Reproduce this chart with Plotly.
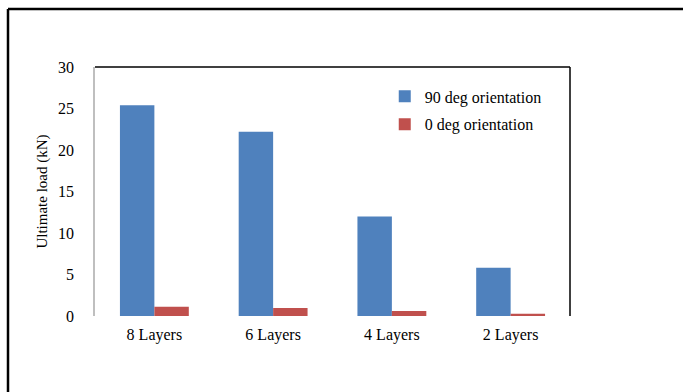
import plotly.graph_objects as go

# Ultimate load by number of layers and fibre orientation
categories = ["8 Layers", "6 Layers", "4 Layers", "2 Layers"]
load_90deg = [25.4, 22.2, 12.0, 5.8]
load_0deg = [1.1, 0.95, 0.6, 0.28]
y_ticks = [0, 5, 10, 15, 20, 25, 30]

FONT = "Liberation Serif, Times New Roman, serif"

fig = go.Figure()
fig.add_trace(go.Bar(
    x=categories, y=load_90deg, name="90 deg orientation",
    marker=dict(color="#4F81BD", line=dict(width=0)),
    legendgroup="a",
))
fig.add_trace(go.Bar(
    x=categories, y=load_0deg, name="0 deg orientation",
    marker=dict(color="#C0504D", line=dict(width=0)),
    legendgroup="b",
))

fig.update_layout(
    width=683, height=392,
    margin=dict(l=95, r=113, t=67, b=76),
    paper_bgcolor="white", plot_bgcolor="white",
    font=dict(family=FONT, size=16, color="#000000"),
    barmode="group", bargap=0.42, bargroupgap=0,
    showlegend=True,
    legend=dict(
        x=0.61, y=0.95, xanchor="left", yanchor="top",
        bgcolor="rgba(0,0,0,0)", borderwidth=0,
        font=dict(family=FONT, size=16),
        traceorder="grouped", tracegroupgap=4,
        itemwidth=30,
    ),
    xaxis=dict(
        showline=False, showgrid=False, ticks="",
        ticklabelstandoff=7,
        tickfont=dict(family=FONT, size=16),
    ),
    yaxis=dict(
        range=[0, 30], tickvals=y_ticks,
        showgrid=False, zeroline=False,
        showline=True, linecolor="#BFBFBF", linewidth=1.5,
        ticks="", ticklabelstandoff=16,
        tickfont=dict(family=FONT, size=16),
        title=dict(text="Ultimate load (kN)", font=dict(family=FONT, size=15), standoff=7),
    ),
)

# Plot-area border on the top and right sides
fig.add_shape(type="line", xref="paper", yref="paper", x0=0, x1=1, y0=1, y1=1,
              line=dict(color="black", width=1.5))
fig.add_shape(type="line", xref="paper", yref="paper", x0=1, x1=1, y0=0, y1=1,
              line=dict(color="black", width=1.5))

# Outer chart frame (left and top edges)
left_x = (8 - 95) / 475
top_y = 1 + (67 - 9) / 249
fig.add_shape(type="line", xref="paper", yref="paper", x0=left_x, x1=left_x, y0=-1, y1=top_y,
              line=dict(color="black", width=2.5))
fig.add_shape(type="line", xref="paper", yref="paper", x0=left_x, x1=2, y0=top_y, y1=top_y,
              line=dict(color="black", width=2.5))

fig.write_html("out.html")
